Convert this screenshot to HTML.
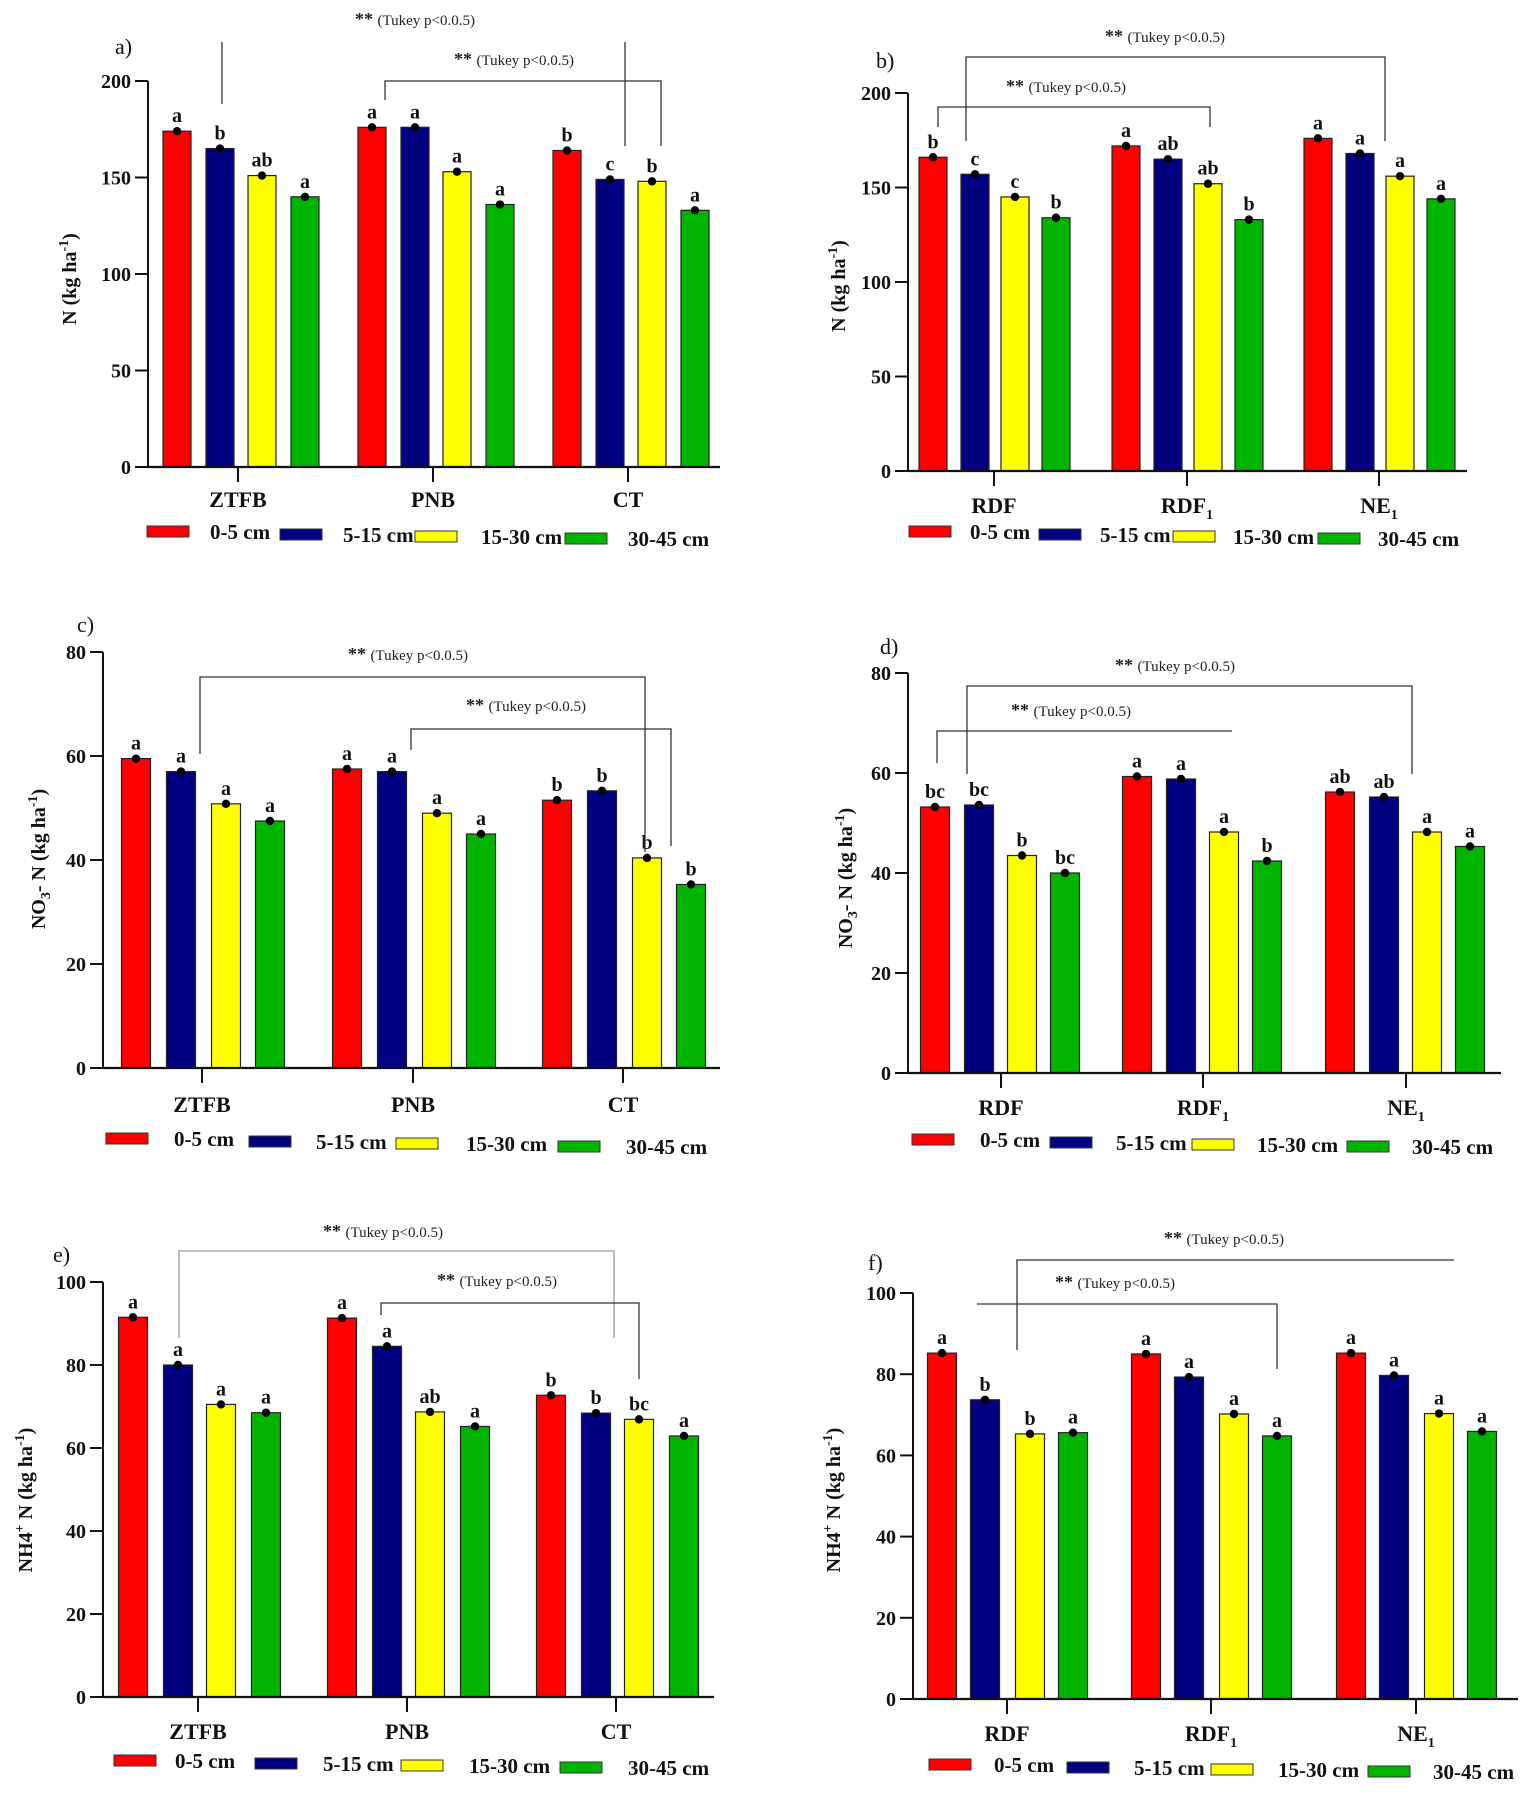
<!DOCTYPE html>
<html><head><meta charset="utf-8"><style>
html,body{margin:0;padding:0;background:#fff}
svg{display:block}
text{font-family:"Liberation Serif",serif}
</style></head><body>
<svg id="fig" width="1535" height="1802" viewBox="0 0 1535 1802" xmlns="http://www.w3.org/2000/svg"></svg>
<script>
// ---- data ----
const depths = ["0-5 cm","5-15 cm","15-30 cm","30-45 cm"];
const colors = ["#ff0000","#000080","#ffff00","#00b400"];
const tillageCats = ["ZTFB","PNB","CT"];
const nutrientCats = ["RDF","RDF1","NE1"];
const valuesA = [[174,165,151,140],[176,176,153,136],[164,149,148,133]];
const lettersA = [["a","b","ab","a"],["a","a","a","a"],["b","c","b","a"]];
const valuesB = [[166,157,145,134],[172,165,152,133],[176,168,156,144]];
const lettersB = [["b","c","c","b"],["a","ab","ab","b"],["a","a","a","a"]];
const valuesC = [[59.5,57,50.8,47.5],[57.5,57,49,45],[51.5,53.3,40.4,35.3]];
const lettersC = [["a","a","a","a"],["a","a","a","a"],["b","b","b","b"]];
const valuesD = [[53.2,53.6,43.5,40],[59.3,58.8,48.2,42.4],[56.2,55.2,48.2,45.3]];
const lettersD = [["bc","bc","b","bc"],["a","a","a","b"],["ab","ab","a","a"]];
const valuesE = [[91.5,80,70.5,68.5],[91.3,84.5,68.7,65.2],[72.7,68.4,66.9,62.9]];
const lettersE = [["a","a","a","a"],["a","a","ab","a"],["b","b","bc","a"]];
const valuesF = [[85.2,73.7,65.3,65.6],[85,79.3,70.2,64.8],[85.2,79.7,70.3,65.9]];
const lettersF = [["a","b","b","a"],["a","a","a","a"],["a","a","a","a"]];
const ticksN = [0,50,100,150,200];
const ticksNO3 = [0,20,40,60,80];
const ticksNH4 = [0,20,40,60,80,100];

const NS="http://www.w3.org/2000/svg";
const svg=document.getElementById('fig');
function mk(tag,attrs,parent){const e=document.createElementNS(NS,tag);for(const k in attrs)e.setAttribute(k,attrs[k]);(parent||svg).appendChild(e);return e;}

const panels=[
 {id:'a',label:'a)',lx:115,ly:54,ax:148,y0:467,yt:81,ymax:200,right:720,centers:[238,433,628],off:[-61,-18,24,67],bw:28,cats:tillageCats,vals:valuesA,lets:lettersA,ticks:ticksN,catY:507,
  ytitle:[{t:'N (kg ha'},{t:'-1',sup:1},{t:')'}],ytx:76,yty:279,
  leg:{y:532,rects:[147,280,415,565],texts:[210,343,481,628],dy:[0,3,5,7]},
  tukey:[{x:355,y:25},{x:454,y:65}],
  br:[[[222,42],[222,104]],[[385,100],[385,81],[661,81],[661,146]],[[625,42],[625,146]]]},
 {id:'b',label:'b)',lx:876,ly:68,ax:908,y0:471,yt:93,ymax:200,right:1467,centers:[994,1187,1379],off:[-61,-19,21,62],bw:28,cats:nutrientCats,vals:valuesB,lets:lettersB,ticks:ticksN,catY:513,
  ytitle:[{t:'N (kg ha'},{t:'-1',sup:1},{t:')'}],ytx:845,yty:286,
  leg:{y:532,rects:[909,1039,1173,1318],texts:[970,1100,1233,1378],dy:[0,3,5,7]},
  tukey:[{x:1105,y:42},{x:1006,y:92}],
  br:[[[966,141],[966,57],[1385,57],[1385,141]],[[938,127],[938,107],[1210,107],[1210,127]]]},
 {id:'c',label:'c)',lx:77,ly:632,ax:103,y0:1068,yt:652,ymax:80,right:720,centers:[202,413,623],off:[-66,-21,24,68],bw:29,cats:tillageCats,vals:valuesC,lets:lettersC,ticks:ticksNO3,catY:1112,
  ytitle:[{t:'NO'},{t:'3',sub:1},{t:'- N (kg ha'},{t:'-1',sup:1},{t:')'}],ytx:45,yty:859,
  leg:{y:1139,rects:[106,249,396,558],texts:[174,316,466,626],dy:[0,3,5,8]},
  tukey:[{x:348,y:660},{x:466,y:711}],
  br:[[[200,754],[200,677],[645,677],[645,852]],[[411,750],[411,729],[671,729],[671,846]]]},
 {id:'d',label:'d)',lx:880,ly:654,ax:908,y0:1073,yt:673,ymax:80,right:1501,centers:[1001,1203,1406],off:[-66,-22,21,64],bw:29,cats:nutrientCats,vals:valuesD,lets:lettersD,ticks:ticksNO3,catY:1115,
  ytitle:[{t:'NO'},{t:'3',sub:1},{t:'- N (kg ha'},{t:'-1',sup:1},{t:')'}],ytx:852,yty:878,
  leg:{y:1140,rects:[912,1050,1192,1347],texts:[980,1116,1257,1412],dy:[0,3,5,7]},
  tukey:[{x:1115,y:671},{x:1011,y:716}],
  br:[[[967,774],[967,686],[1412,686],[1412,774]],[[937,763],[937,731],[1232,731]]]},
 {id:'e',label:'e)',lx:53,ly:1262,ax:103,y0:1697,yt:1282,ymax:100,right:714,centers:[198,407,616],off:[-65,-20,23,68],bw:29,cats:tillageCats,vals:valuesE,lets:lettersE,ticks:ticksNH4,catY:1739,
  ytitle:[{t:'NH4'},{t:'+',sup:1},{t:' N (kg ha'},{t:'-1',sup:1},{t:')'}],ytx:32,yty:1500,
  leg:{y:1761,rects:[114,255,401,560],texts:[175,323,469,628],dy:[0,3,5,7]},
  tukey:[{x:323,y:1237},{x:437,y:1286}],
  br:[[[179,1338],[179,1251],[614,1251],[614,1338]],[[381,1315],[381,1303],[639,1303],[639,1379]]],gray0:1},
 {id:'f',label:'f)',lx:868,ly:1270,ax:913,y0:1699,yt:1293,ymax:100,right:1518,centers:[1007,1211,1416],off:[-65,-22,23,66],bw:29,cats:nutrientCats,vals:valuesF,lets:lettersF,ticks:ticksNH4,catY:1741,
  ytitle:[{t:'NH4'},{t:'+',sup:1},{t:' N (kg ha'},{t:'-1',sup:1},{t:')'}],ytx:840,yty:1500,
  leg:{y:1765,rects:[929,1067,1211,1368],texts:[994,1134,1278,1433],dy:[0,3,5,7]},
  tukey:[{x:1164,y:1244},{x:1055,y:1288}],
  br:[[[1017,1350],[1017,1260],[1454,1260]],[[977,1304],[1277,1304],[1277,1369]]]}
];

function catLabel(g,name,x,y){
  const t=mk('text',{x:x,y:y,'text-anchor':'middle','font-size':22,'font-weight':'bold',fill:'#111'},g);
  
  
  if(name.endsWith('1')){t.textContent=name.slice(0,-1);const s=mk('tspan',{'font-size':14,dy:6},t);s.textContent='1';}
  else t.textContent=name;
}

panels.forEach(p=>{
  const g=mk('g',{});
  
  
  const ys=v=>p.y0-v/p.ymax*(p.y0-p.yt);
  const lb=mk('text',{x:p.lx,y:p.ly,'font-size':22,'font-family':'Liberation Sans, sans-serif',fill:'#111'},g);lb.textContent=p.label;
  
  
  p.vals.forEach((grp,gi)=>{
    grp.forEach((v,si)=>{
      const cx=p.centers[gi]+p.off[si];
      const r=mk('rect',{x:cx-p.bw/2,y:ys(v),width:p.bw,height:p.y0-ys(v),fill:colors[si],stroke:'#222','stroke-width':1.2},g);
      
      
      const d=mk('circle',{cx:cx,cy:ys(v),r:4.2,fill:'#000'},g);
      
      
      const lt=mk('text',{x:cx,y:ys(v)-9,'text-anchor':'middle','font-size':20,'font-weight':'bold',fill:'#111'},g);
      lt.textContent=p.lets[gi][si];
      
      
    });
  });
  const ya=mk('line',{x1:p.ax,y1:p.yt,x2:p.ax,y2:p.y0,stroke:'#111','stroke-width':2},g);
  
  
  const xa=mk('line',{x1:p.ax,y1:p.y0,x2:p.right,y2:p.y0,stroke:'#111','stroke-width':2.2},g);
  
  
  p.ticks.forEach(t=>{
    mk('line',{x1:p.ax-13,y1:ys(t),x2:p.ax,y2:ys(t),stroke:'#111','stroke-width':2},g);
    const tl=mk('text',{x:p.ax-17,y:ys(t)+7,'text-anchor':'end','font-size':20,'font-weight':'bold',fill:'#111'},g);
    tl.textContent=t;
    
    
  });
  p.centers.forEach((c,i)=>{
    mk('line',{x1:c,y1:p.y0,x2:c,y2:p.y0+15,stroke:'#111','stroke-width':2},g);
    catLabel(g,p.cats[i],c,p.catY);
  });
  const yt=mk('text',{x:0,y:0,'text-anchor':'middle','font-size':20,'font-weight':'bold',fill:'#111',transform:`translate(${p.ytx},${p.yty}) rotate(-90)`},g);
  
  
  p.ytitle.forEach(s=>{const ts=mk('tspan',{},yt);ts.textContent=s.t;
    if(s.sup){ts.setAttribute('font-size',14);ts.setAttribute('dy',-8);}
    else if(s.sub){ts.setAttribute('font-size',14);ts.setAttribute('dy',5);}
  });
  let prev=0;Array.from(yt.childNodes).forEach(ts=>{const d=parseFloat(ts.getAttribute('dy')||0);if(!ts.getAttribute('font-size')&&prev){ts.setAttribute('dy',-prev);}prev=ts.getAttribute('font-size')?d:0;});
  p.br.forEach((b,bi)=>{
    const pl=mk('polyline',{points:b.map(q=>q.join(',')).join(' '),fill:'none',stroke:(p.gray0&&bi===0)?'#999':'#333','stroke-width':1.3},g);
    
    
  });
  p.tukey.forEach(t=>{
    const tt=mk('text',{x:t.x,y:t.y,'font-size':15,fill:'#222'},g);
    
    
    const s1=mk('tspan',{'font-weight':'bold','font-size':18},tt);s1.textContent='** ';
    const s2=mk('tspan',{},tt);s2.textContent='(Tukey p<0.0.5)';
  });
  depths.forEach((d,i)=>{
    const y=p.leg.y+p.leg.dy[i];
    const r=mk('rect',{x:p.leg.rects[i],y:y-6,width:42,height:11,fill:colors[i],stroke:'#333','stroke-width':1},g);
    
    
    const t=mk('text',{x:p.leg.texts[i],y:y+7,'font-size':21,'font-weight':'bold',fill:'#111'},g);
    t.textContent=d;
    
    
  });
});
</script>
</body></html>
